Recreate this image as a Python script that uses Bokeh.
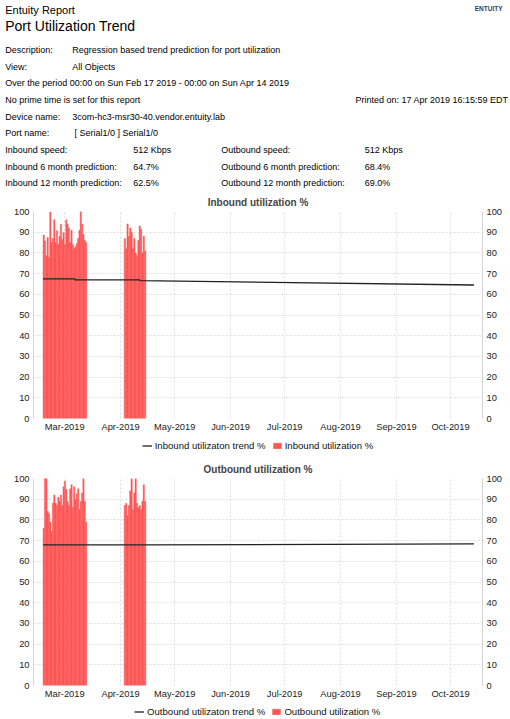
from datetime import datetime
import pandas as pd
from bokeh.plotting import figure
from bokeh.models import (Range1d, FixedTicker, DatetimeTickFormatter, LinearAxis,
                          Legend, LegendItem, ColumnDataSource, Label)
from bokeh.embed import file_html
from bokeh.resources import INLINE

# ---------------- data ----------------
report_kicker = "Entuity Report"
report_title = "Port Utilization Trend"
logo_text = "ENTUITY"

info_labels = ["Description:", "View:",
               "Over the period 00:00 on Sun Feb 17 2019 - 00:00 on Sun Apr 14 2019",
               "No prime time is set for this report", "Device name:", "Port name:"]
info_values = ["Regression based trend prediction for port utilization", "All Objects",
               "", "", "3com-hc3-msr30-40.vendor.entuity.lab", "[ Serial1/0 ] Serial1/0"]
printed_on = "Printed on: 17 Apr 2019 16:15:59 EDT"

in_stat_labels = ["Inbound speed:", "Inbound 6 month prediction:", "Inbound 12 month prediction:"]
in_stat_values = ["512 Kbps", "64.7%", "62.5%"]
out_stat_labels = ["Outbound speed:", "Outbound 6 month prediction:", "Outbound 12 month prediction:"]
out_stat_values = ["512 Kbps", "68.4%", "69.0%"]

month_ticks = ["2019-03-01", "2019-04-01", "2019-05-01", "2019-06-01",
               "2019-07-01", "2019-08-01", "2019-09-01", "2019-10-01"]
y_ticks = [0, 10, 20, 30, 40, 50, 60, 70, 80, 90, 100]

block1_span = ["2019-02-17 00:00", "2019-03-13 06:00"]
block2_span = ["2019-04-03 00:00", "2019-04-15 00:00"]

inbound_block1 = [88.6, 85.8, 78.6, 87.4, 77.8, 99.8, 85.0, 87.0, 96.0, 85.0, 90.7,
                  84.0, 88.0, 93.9, 86.5, 89.7, 84.0, 96.0, 94.0, 92.0, 85.0, 91.0,
                  84.0, 82.0, 83.0, 84.5, 87.0, 91.0, 100.0, 94.0, 89.0, 86.0, 85.0]
inbound_block2 = [87.0, 82.0, 94.0, 88.0, 92.0, 90.0, 82.0, 87.0, 80.0, 78.6, 86.0,
                  93.0, 91.5, 80.0, 88.0, 81.0]
outbound_block1 = [76.0, 100.0, 100.0, 84.0, 83.0, 79.0, 74.5, 88.0, 92.0, 88.0, 87.0,
                   91.0, 89.0, 92.0, 87.0, 96.0, 98.7, 94.8, 89.0, 87.0, 95.0, 97.0,
                   86.0, 96.0, 90.0, 92.6, 95.0, 85.0, 89.0, 93.0, 100.0, 89.0, 79.0]
outbound_block2 = [87.0, 88.0, 82.0, 87.0, 94.0, 100.0, 85.0, 93.0, 100.0, 88.0, 86.0,
                   87.0, 85.0, 89.0, 97.0, 89.0]

inbound_trend_dates = ["2019-02-17 00:00", "2019-03-06 14:00", "2019-03-06 14:00",
                       "2019-04-11 16:00", "2019-04-11 16:00", "2019-10-14 00:00"]
inbound_trend_values = [67.5, 67.5, 67.0, 67.0, 66.6, 64.5]
outbound_trend_dates = ["2019-02-17 00:00", "2019-04-14 00:00", "2019-10-14 00:00"]
outbound_trend_values = [67.9, 67.9, 68.4]

# ---------------- layout / styles ----------------
FONT = "Liberation Sans"
RED = "#FF5555"
LINE = "#222222"
PAGE_W = 510
FL, FW, FR = 33, 449, 28          # frame left border, frame width, right border
HEADER_H = 189
X_START, X_END = datetime(2019, 2, 11, 16, 30), datetime(2019, 10, 18, 18)


def header():
    p = figure(width=PAGE_W, height=HEADER_H,
               x_range=Range1d(0, PAGE_W), y_range=Range1d(HEADER_H, 0),
               x_axis_location=None, y_axis_location=None,
               output_backend="svg", toolbar_location=None,
               min_border_left=0, min_border_right=0, min_border_top=0, min_border_bottom=0)
    p.grid.visible = False
    p.outline_line_color = None

    def txt(x, y, t, size, align="left", style="normal", color="#000000"):
        p.add_layout(Label(x=x, y=y, text=t, text_font=FONT, text_font_size=size,
                           text_baseline="middle", text_align=align,
                           text_font_style=style, text_color=color))

    txt(4.7, 9.0, report_kicker, "11px")
    txt(4.7, 25.0, report_title, "14px")
    txt(502, 8.0, logo_text, "6.5px", align="right", style="bold", color="#2b3f63")

    row0, dy = 49.3, 16.7
    val_x = [71.7, 71.7, 0, 0, 71.7, 74.0]
    for i, (lab, val) in enumerate(zip(info_labels, info_values)):
        y = row0 + i * dy
        txt(4.7, y, lab, "9px")
        if val:
            txt(val_x[i], y, val, "9px")
    txt(508, row0 + 3 * dy, printed_on, "9px", align="right")
    for j in range(3):
        y = row0 + (6 + j) * dy
        txt(4.7, y, in_stat_labels[j], "9px")
        txt(132.7, y, in_stat_values[j], "9px")
        txt(220.7, y, out_stat_labels[j], "9px")
        txt(364.3, y, out_stat_values[j], "9px")
    return p


def bar_source(blocks):
    xs, ws, tops = [], [], []
    for span, vals in blocks:
        s, e = pd.Timestamp(span[0]), pd.Timestamp(span[1])
        step = (e - s) / len(vals)
        xs += [s + step * (i + 0.5) for i in range(len(vals))]
        ws += [step.total_seconds() * 1000.0] * len(vals)
        tops += list(vals)
    return dict(x=xs, top=tops, w=ws)


def add_series(p, blocks, tdates, tvals):
    br = p.vbar(x="x", top="top", width="w", bottom=0,
                source=ColumnDataSource(bar_source(blocks)),
                fill_color=RED, line_color=RED, line_width=0.4)
    lr = p.line(x=pd.to_datetime(tdates), y=tvals, line_color=LINE, line_width=1.3)
    return lr, br


def chart(title, blocks, tdates, tvals):
    p = figure(frame_width=FW, frame_height=207, x_axis_type="datetime",
               x_range=Range1d(X_START, X_END),
               y_range=Range1d(0, 100), output_backend="svg", toolbar_location=None,
               min_border_left=FL, min_border_right=FR, min_border_top=22,
               min_border_bottom=15)
    p.outline_line_color = None
    p.title.text = title
    p.title.align = "center"
    p.title.text_font = FONT
    p.title.text_font_size = "10px"
    p.title.text_font_style = "bold"
    p.title.standoff = 8

    add_series(p, blocks, tdates, tvals)

    tick_ms = [pd.Timestamp(t).value / 1e6 for t in month_ticks]
    p.xaxis.ticker = FixedTicker(ticks=tick_ms)
    fmt = "%b-%Y"
    p.xaxis.formatter = DatetimeTickFormatter(
        microseconds=fmt, milliseconds=fmt, seconds=fmt, minsec=fmt, minutes=fmt,
        hourmin=fmt, hours=fmt, days=fmt, months=fmt, years=fmt, context=None)
    p.yaxis.ticker = FixedTicker(ticks=y_ticks)
    p.add_layout(LinearAxis(ticker=FixedTicker(ticks=y_ticks)), "right")

    for ax in p.axis:
        ax.major_label_text_font = FONT
        ax.major_label_text_font_size = "9.3px"
        ax.major_label_text_color = "#222222"
        ax.major_tick_in = 0
        ax.major_tick_out = 0
        ax.minor_tick_in = 0
        ax.minor_tick_out = 0
        ax.major_label_standoff = 4
    p.xaxis.major_label_standoff = 3
    p.xaxis.axis_line_color = None
    for ax in p.yaxis:
        ax.axis_line_color = "#d4d4d4"

    for g in (p.xgrid, p.ygrid):
        g.grid_line_color = "#dcdcdc"
        g.grid_line_dash = "2 2"
    return p


def legend_strip(blocks, tdates, tvals, line_label, bar_label, height, cy, x0):
    """Legend strip under a chart: the same series are drawn here outside the view,
    so the legend keys come from real renderers with the chart's styles."""
    p = figure(width=PAGE_W, height=height, x_axis_type="datetime",
               x_range=Range1d(X_START, X_END), y_range=Range1d(1000, 1001),
               x_axis_location=None, y_axis_location=None,
               output_backend="svg", toolbar_location=None,
               min_border_left=0, min_border_right=0, min_border_top=0, min_border_bottom=0)
    p.grid.visible = False
    p.outline_line_color = None
    lr, br = add_series(p, blocks, tdates, tvals)
    box_h = 11
    leg = Legend(items=[LegendItem(label=line_label, renderers=[lr]),
                        LegendItem(label=bar_label, renderers=[br])],
                 orientation="horizontal", location=(x0, height - cy - box_h / 2),
                 border_line_color=None, background_fill_alpha=0,
                 padding=0, margin=0, spacing=6, label_standoff=3,
                 glyph_width=10, glyph_height=7, label_height=box_h,
                 label_text_font=FONT, label_text_font_size="9.6px",
                 label_text_color="#111111")
    p.add_layout(leg)
    return p


in_blocks = [(block1_span, inbound_block1), (block2_span, inbound_block2)]
out_blocks = [(block1_span, outbound_block1), (block2_span, outbound_block2)]

h = header()
p_in = chart("Inbound utilization %", in_blocks, inbound_trend_dates, inbound_trend_values)
l_in = legend_strip(in_blocks, inbound_trend_dates, inbound_trend_values,
                    "Inbound utilizaton trend %", "Inbound utilization %",
                    height=22, cy=11.3, x0=141.7)
p_out = chart("Outbound utilization %", out_blocks, outbound_trend_dates, outbound_trend_values)
l_out = legend_strip(out_blocks, outbound_trend_dates, outbound_trend_values,
                     "Outbound utilizaton trend %", "Outbound utilization %",
                     height=20, cy=10.0, x0=134.0)

open("out.html", "w").write(file_html([h, p_in, l_in, p_out, l_out], INLINE))
